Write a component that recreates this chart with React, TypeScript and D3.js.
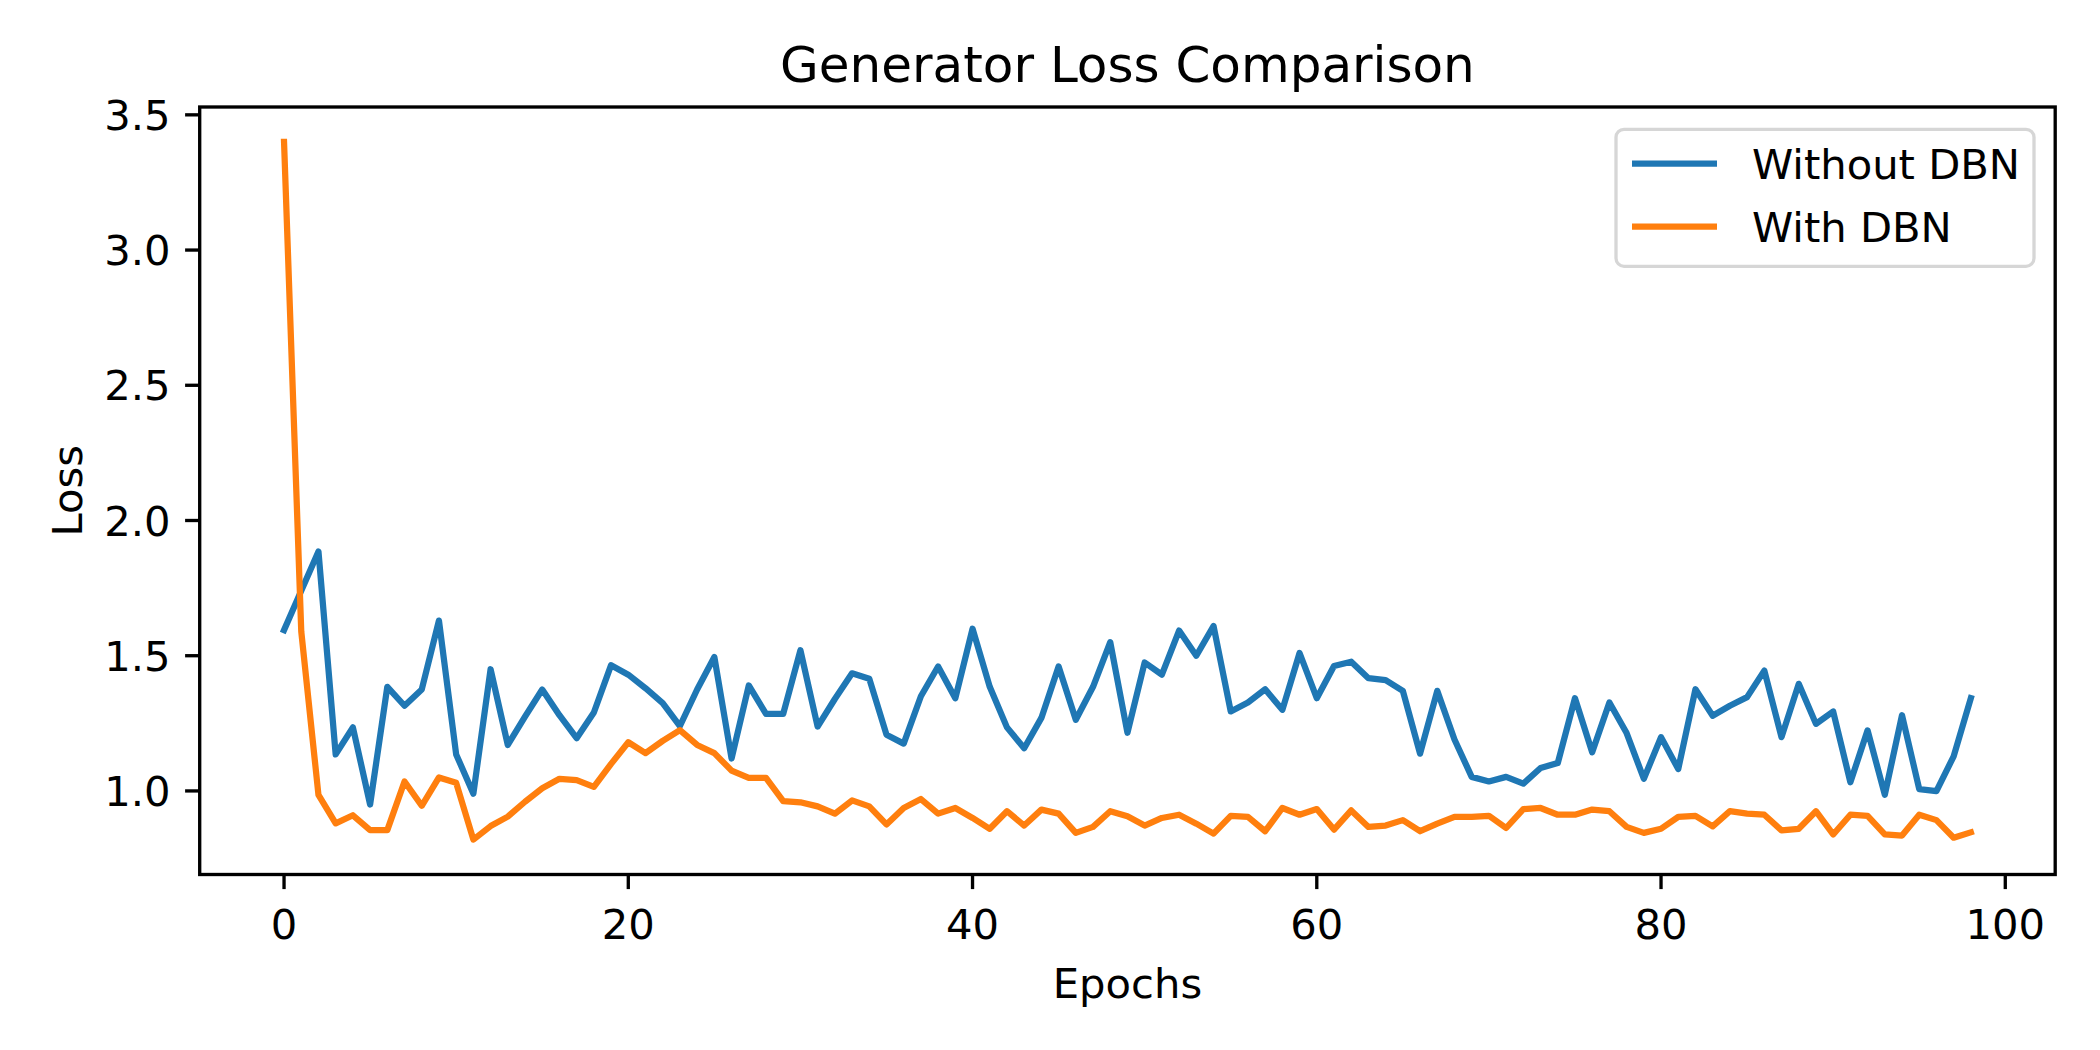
import { useMemo } from "react";
import * as d3 from "d3";

// Loss per epoch
const WITHOUT_DBN = [
  1.595, 1.74, 1.885, 1.135, 1.235, 0.95, 1.385, 1.315, 1.375, 1.63,
  1.135, 0.99, 1.45, 1.17, 1.275, 1.375, 1.28, 1.195, 1.29, 1.465,
  1.43, 1.38, 1.325, 1.24, 1.375, 1.495, 1.12, 1.39, 1.285, 1.285,
  1.52, 1.238, 1.34, 1.435, 1.415, 1.208, 1.175, 1.35, 1.46, 1.343,
  1.6, 1.385, 1.235, 1.158, 1.27, 1.46, 1.263, 1.385, 1.55, 1.215,
  1.475, 1.43, 1.593, 1.5, 1.61, 1.294, 1.327, 1.376, 1.3, 1.51,
  1.343, 1.462, 1.478, 1.417, 1.41, 1.37, 1.138, 1.37, 1.19, 1.052,
  1.035, 1.052, 1.027, 1.085, 1.103, 1.343, 1.143, 1.327, 1.214, 1.045,
  1.199, 1.081, 1.376, 1.278, 1.315, 1.347, 1.445, 1.199, 1.396, 1.248,
  1.294, 1.032, 1.224, 0.986, 1.28, 1.007, 0.999, 1.128, 1.343,
];

const WITH_DBN = [
  3.4, 1.59, 0.985, 0.88, 0.91, 0.855, 0.855, 1.035, 0.945, 1.05,
  1.03, 0.82, 0.87, 0.905, 0.96, 1.01, 1.045, 1.04, 1.015, 1.1,
  1.18, 1.14, 1.185, 1.225, 1.17, 1.14, 1.075, 1.048, 1.048, 0.962,
  0.958, 0.943, 0.916, 0.965, 0.943, 0.876, 0.937, 0.97, 0.916, 0.937,
  0.9, 0.86, 0.925, 0.872, 0.931, 0.916, 0.845, 0.867, 0.925, 0.906,
  0.872, 0.9, 0.912, 0.879, 0.842, 0.908, 0.904, 0.851, 0.937, 0.912,
  0.933, 0.857, 0.928, 0.867, 0.872, 0.892, 0.851, 0.879, 0.904, 0.904,
  0.908, 0.863, 0.933, 0.937, 0.912, 0.912, 0.931, 0.925, 0.867, 0.845,
  0.86, 0.904, 0.908, 0.869, 0.925, 0.916, 0.912, 0.854, 0.86, 0.925,
  0.839, 0.912, 0.908, 0.839, 0.835, 0.912, 0.892, 0.827, 0.847,
];

const SERIES = [
  { name: "Without DBN", values: WITHOUT_DBN, color: "#1f77b4" },
  { name: "With DBN", values: WITH_DBN, color: "#ff7f0e" },
];

const X_TICKS = [0, 20, 40, 60, 80, 100];
const Y_TICKS = [1.0, 1.5, 2.0, 2.5, 3.0, 3.5];

const W = 2100;
const H = 1050;
const FONT = "'DejaVu Sans', sans-serif";
const FS = 41.7; // 10pt @ 300dpi
const LW = 6.25; // 1.5pt line
const SPINE = 3.33;
const TICK = 14.6;

// matplotlib-style 5% margins
function padded(lo: number, hi: number): [number, number] {
  const m = (hi - lo) * 0.05;
  return [lo - m, hi + m];
}

export default function App() {
  const left = 199.7;
  const right = 2055.2;
  const top = 107;
  const bottom = 874.5;

  const x = useMemo(() => {
    const n = WITHOUT_DBN.length - 1;
    return d3.scaleLinear().domain(padded(0, n)).range([left, right]);
  }, []);

  const y = useMemo(() => {
    const all = [...WITHOUT_DBN, ...WITH_DBN];
    const [lo, hi] = d3.extent(all) as [number, number];
    return d3.scaleLinear().domain(padded(lo, hi)).range([bottom, top]);
  }, []);

  const line = d3
    .line<number>()
    .x((_, i) => x(i))
    .y((d) => y(d));

  const cx = (left + right) / 2;
  const cy = (top + bottom) / 2;

  // legend box (upper right)
  const lgRight = 2034;
  const lgTop = 129.3;
  const lgW = 418;
  const lgH = 137;
  const lgLeft = lgRight - lgW;

  return (
    <svg
      width={W}
      height={H}
      style={{ position: "absolute", left: 0, top: 0, background: "#fff" }}
      fontFamily={FONT}
    >
      <rect width={W} height={H} fill="#fff" />

      <defs>
        <clipPath id="plot">
          <rect x={left} y={top} width={right - left} height={bottom - top} />
        </clipPath>
      </defs>

      {/* lines */}
      <g clipPath="url(#plot)">
        {SERIES.map((s) => (
          <path
            key={s.name}
            d={line(s.values) ?? ""}
            fill="none"
            stroke={s.color}
            strokeWidth={LW}
            strokeLinejoin="round"
            strokeLinecap="square"
          />
        ))}
      </g>

      {/* spines */}
      <rect
        x={left}
        y={top}
        width={right - left}
        height={bottom - top}
        fill="none"
        stroke="#000"
        strokeWidth={SPINE}
      />

      {/* x ticks */}
      {X_TICKS.map((t) => (
        <g key={`x${t}`} transform={`translate(${x(t)},0)`}>
          <line y1={bottom} y2={bottom + TICK} stroke="#000" strokeWidth={SPINE} />
          <text y={939} textAnchor="middle" fontSize={FS} fill="#000">
            {t}
          </text>
        </g>
      ))}

      {/* y ticks */}
      {Y_TICKS.map((t) => (
        <g key={`y${t}`} transform={`translate(0,${y(t)})`}>
          <line x1={left} x2={left - TICK} stroke="#000" strokeWidth={SPINE} />
          <text
            x={left - TICK - 14.6}
            dy="0.36em"
            textAnchor="end"
            fontSize={FS}
            fill="#000"
          >
            {d3.format(".1f")(t)}
          </text>
        </g>
      ))}

      {/* labels */}
      <text x={cx} y={998} textAnchor="middle" fontSize={FS} fill="#000">
        Epochs
      </text>
      <text
        transform={`translate(82,${cy}) rotate(-90)`}
        textAnchor="middle"
        fontSize={FS}
        fill="#000"
      >
        Loss
      </text>
      <text x={cx} y={82} textAnchor="middle" fontSize={50} fill="#000">
        Generator Loss Comparison
      </text>

      {/* legend */}
      <g>
        <rect
          x={lgLeft}
          y={lgTop}
          width={lgW}
          height={lgH}
          rx={8}
          fill="#fff"
          fillOpacity={0.8}
          stroke="#d6d6d6"
          strokeWidth={3.3}
        />
        {SERIES.map((s, i) => {
          const ry = lgTop + 34.4 + i * 63;
          return (
            <g key={s.name}>
              <line
                x1={lgLeft + 16}
                x2={lgLeft + 101}
                y1={ry}
                y2={ry}
                stroke={s.color}
                strokeWidth={LW}
                strokeLinecap="butt"
              />
              <text
                x={lgLeft + 136}
                y={ry}
                dy="0.36em"
                fontSize={FS}
                fill="#000"
              >
                {s.name}
              </text>
            </g>
          );
        })}
      </g>
    </svg>
  );
}
